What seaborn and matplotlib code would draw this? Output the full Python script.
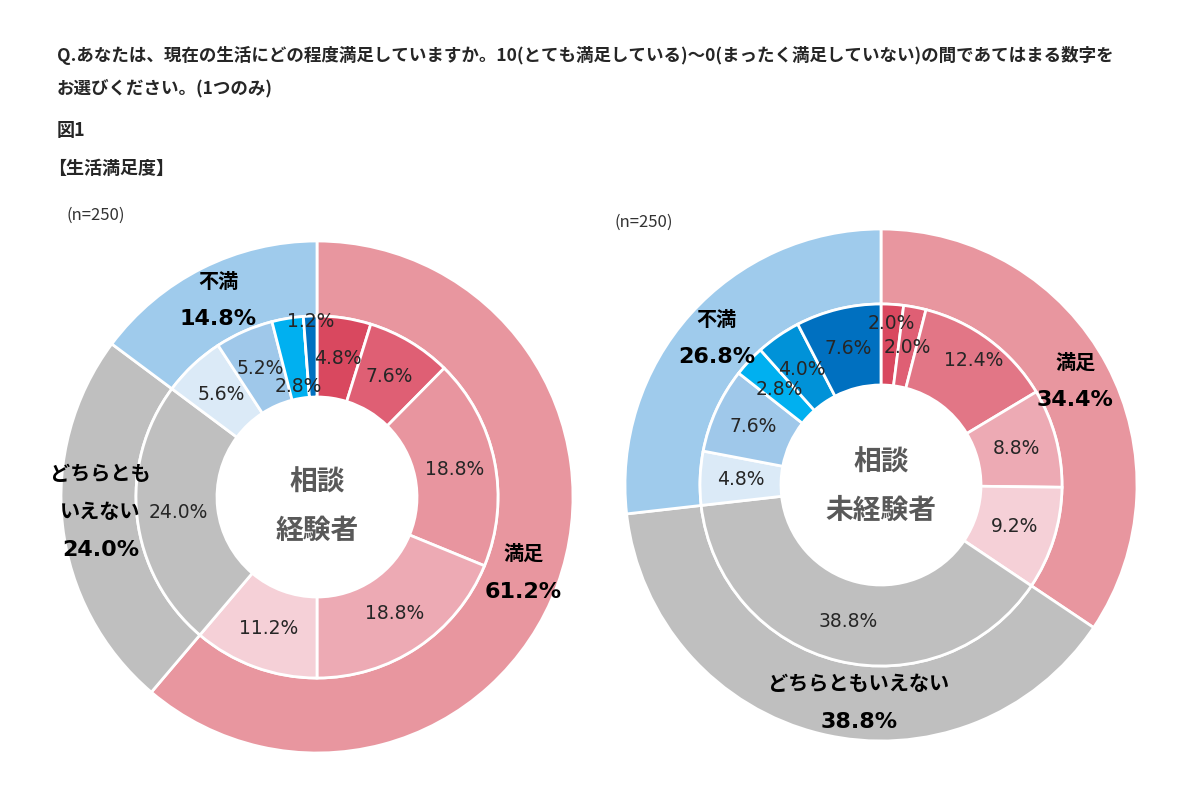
import numpy as np
import matplotlib.pyplot as plt
import seaborn as sns

# 回答 (10 → 0) と 3区分
scores = ["10", "9", "8", "7", "6", "5", "4", "3", "2", "1", "0"]
groups = ["満足", "どちらともいえない", "不満"]

# 相談経験者
exp_inner = [4.8, 7.6, 18.8, 18.8, 11.2, 24.0, 5.6, 5.2, 2.8, 0.0, 1.2]
exp_outer = [61.2, 24.0, 14.8]
exp_n = 250

# 相談未経験者
nonexp_inner = [2.0, 2.0, 12.4, 8.8, 9.2, 38.8, 4.8, 7.6, 2.8, 4.0, 7.6]
nonexp_outer = [34.4, 38.8, 26.8]
nonexp_n = 250

title_line1 = "Q.あなたは、現在の生活にどの程度満足していますか。10(とても満足している)～0(まったく満足していない)の間であてはまる数字を"
title_line2 = "お選びください。(1つのみ)"

# 色
outer_colors = ["#e8969f", "#bfbfbf", "#9fcbec"]
exp_colors = ["#d9485f", "#df5f74", "#e8959f", "#edaab4", "#f5d0d7", "#bfbfbf",
              "#dbeaf7", "#9fc8ea", "#00b0f0", "#0092d8", "#0070c0"]
nonexp_colors = ["#d9485f", "#df5f74", "#e27686", "#edaab4", "#f5d0d7", "#bfbfbf",
                 "#dbeaf7", "#9fc8ea", "#00b0f0", "#0092d8", "#0070c0"]

sns.set_theme(style="white")
plt.rcParams["font.family"] = ["Noto Sans CJK JP", "DejaVu Sans"]

R_OUT, R_MID, R_HOLE = 256, 181, 100
TXT = "#262626"


def mid_angles(values):
    cum = np.cumsum(values) - np.array(values) / 2
    # y軸を反転しているので、-90度 = 真上、角度増加 = 時計回り
    return np.deg2rad(-90 + 360 * cum / 100)


def draw_donut(ax, cx, cy, inner, outer, inner_colors, outer_names, center_lines,
               n, n_xy, inner_r=None, outer_shift=None, center_dy=0):
    inner_r = inner_r or {}
    outer_shift = outer_shift or {}
    wp = dict(edgecolor="white", linewidth=2)
    ax.pie(outer, radius=R_OUT, center=(cx, cy), startangle=-90, counterclock=True,
           colors=outer_colors, wedgeprops=dict(width=R_OUT - R_MID, **wp))
    ax.pie(inner, radius=R_MID, center=(cx, cy), startangle=-90, counterclock=True,
           colors=inner_colors, wedgeprops=dict(width=R_MID - R_HOLE, **wp))

    # 内側ラベル
    for i, (v, a) in enumerate(zip(inner, mid_angles(inner))):
        if v == 0:
            continue
        r = inner_r.get(i, 140)
        ax.text(cx + r * np.cos(a), cy + r * np.sin(a), f"{v:.1f}%",
                ha="center", va="center", fontsize=13.5, color=TXT,
                family="DejaVu Sans")

    # 外側ラベル
    for i, (v, a) in enumerate(zip(outer, mid_angles(outer))):
        dx, dy = outer_shift.get(i, (0, 0))
        x = cx + 220 * np.cos(a) + dx
        y = cy + 220 * np.sin(a) + dy
        lines = outer_names[i].split("\n") + [f"{v:.1f}%"]
        k = len(lines)
        for j, line in enumerate(lines):
            yy = y + (j - (k - 1) / 2) * 38
            if j == k - 1:
                ax.text(x, yy, line, ha="center", va="center", fontsize=16,
                        fontweight="bold", color="black", family="DejaVu Sans")
            else:
                ax.text(x, yy, line, ha="center", va="center", fontsize=14.5,
                        fontweight="bold", color="black")

    # 中央
    ax.text(cx, cy - 22 + center_dy, center_lines[0], ha="center", va="center",
            fontsize=20, fontweight="bold", color="#595959")
    ax.text(cx, cy + 26 + center_dy, center_lines[1], ha="center", va="center",
            fontsize=20, fontweight="bold", color="#595959")

    ax.text(n_xy[0], n_xy[1], f"(n={n})", ha="left", va="center", fontsize=12,
            color="#333333")


fig = plt.figure(figsize=(12, 8), dpi=100)
ax = fig.add_axes([0, 0, 1, 1])

draw_donut(ax, 317, 497, exp_inner, exp_outer, exp_colors,
           ["満足", "どちらとも\nいえない", "不満"], ["相談", "経験者"],
           exp_n, (66, 215), inner_r={8: 112, 10: 176}, outer_shift={1: (2, -10)},
           center_dy=8)
draw_donut(ax, 881, 485, nonexp_inner, nonexp_outer, nonexp_colors,
           ["満足", "どちらともいえない", "不満"], ["相談", "未経験者"],
           nonexp_n, (615, 222), inner_r={0: 162, 2: 155}, outer_shift={1: (30, 4)})

ax.text(57, 55, title_line1, ha="left", va="center", fontsize=12.6, fontweight="bold")
ax.text(57, 88, title_line2, ha="left", va="center", fontsize=12.6, fontweight="bold")
ax.text(57, 130, "図1", ha="left", va="center", fontsize=13, fontweight="bold")
ax.text(48, 168, "【生活満足度】", ha="left", va="center", fontsize=13, fontweight="bold")

ax.set_xlim(0, 1200)
ax.set_ylim(800, 0)
ax.set_aspect("equal")
ax.axis("off")

fig.savefig("out.png", dpi=100, facecolor="white")
